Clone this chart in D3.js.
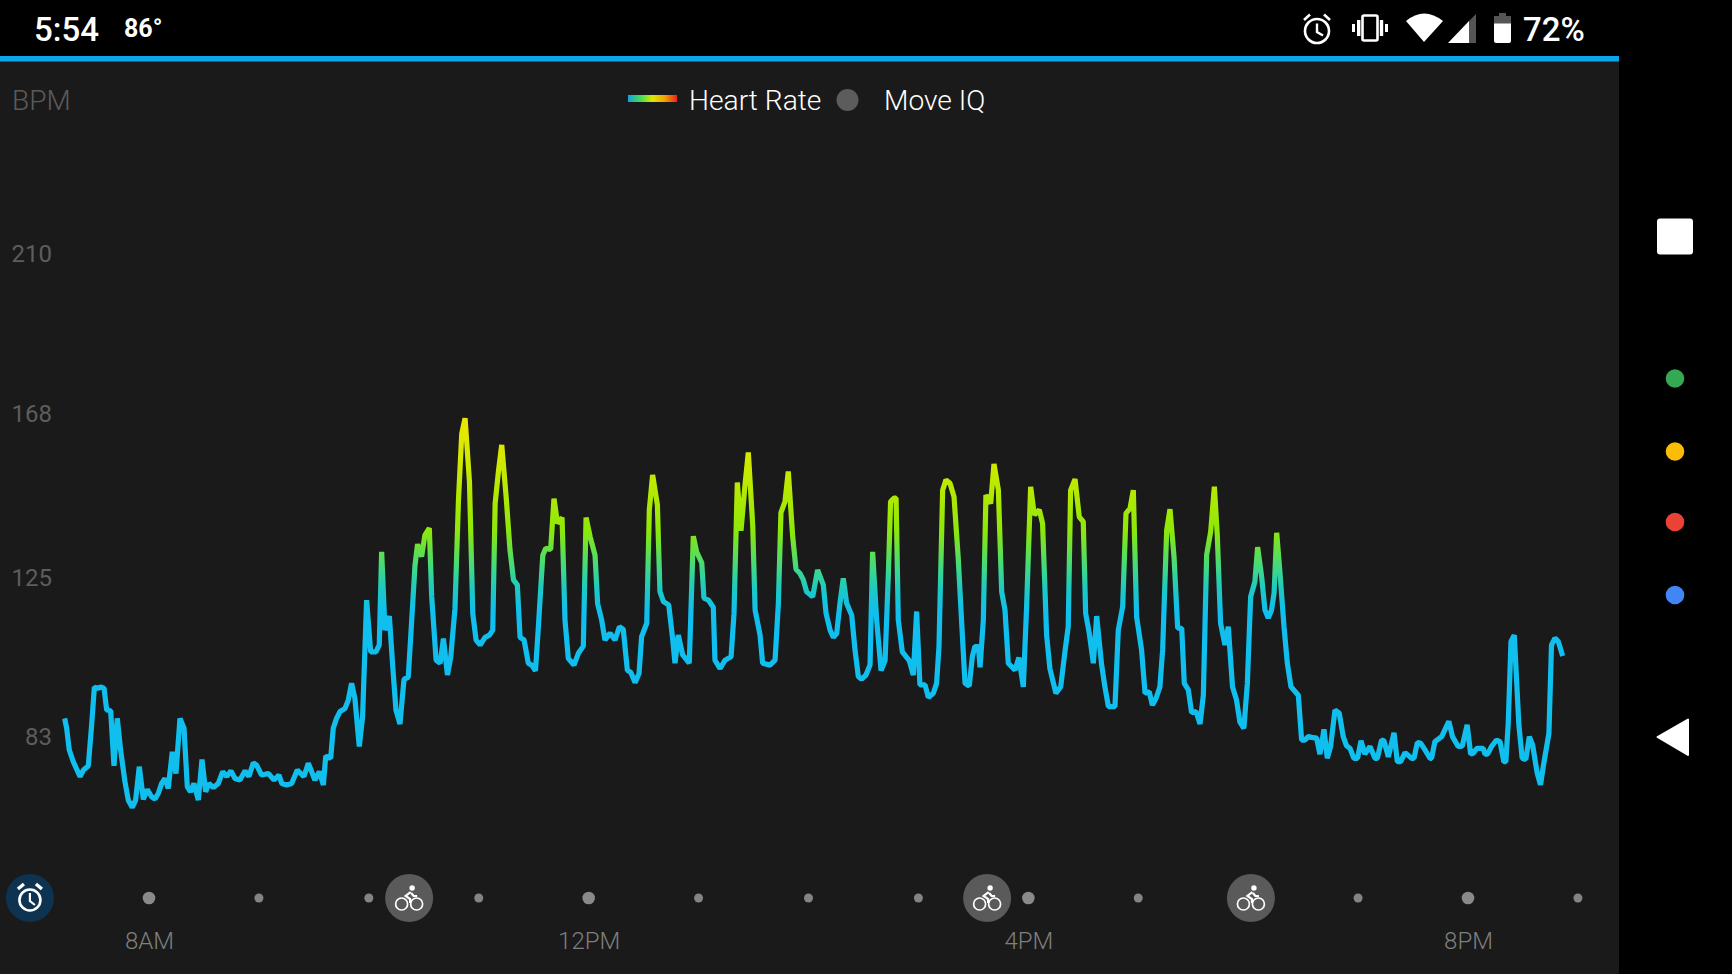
<!DOCTYPE html>
<html><head><meta charset="utf-8">
<script src="https://cdn.jsdelivr.net/npm/d3@7"></script>
<style>html,body{margin:0;padding:0;background:#000;overflow:hidden}svg{display:block}text{font-family:Roboto,sans-serif}</style>
</head><body><svg id="c" width="1732" height="974"></svg>
<script>
// minutes since midnight of each reading
const hrMinutes=[434,435.1,436.5,438.7,442.4,444.2,446.9,448.7,450.2,452.4,453.6,455.5,456.9,459.1,460.9,462.7,464.5,466.9,468.7,470.9,472.7,474.7,476.9,479.1,481.4,483.3,485.1,486.9,488.7,490.5,492.7,494.7,496.9,499.1,500.9,502.7,504.5,506.9,508.9,510.9,512.7,515.1,517.8,520.2,522.4,524.7,526.9,529.6,532.4,534.5,536.9,538.7,541.4,545.1,548.2,550.9,552.4,555.1,557.8,560.9,564.5,566.9,570.5,572.9,575.1,576.4,579.1,580.5,582.3,584.2,586.9,588.7,590.5,592.3,594.7,596.5,598.7,600.9,603.8,605.6,606.9,608.7,611.1,612.9,614.7,616.9,619.1,621.4,622.7,625.1,626.5,628.7,630.5,632.9,
634.2,636.6,638.8,640.6,642.8,644.6,646.9,648.8,650.6,652.4,654.8,656.6,658.4,660.6,663.3,665.7,667.5,668.8,670.6,672.4,674.8,676.9,678.8,680.9,682.4,684.6,686.9,688.8,690.8,692.4,694.8,696.4,699.1,700.9,702.8,705.3,706.9,708.7,711.8,714.2,716.9,718.4,720.6,723.3,724.7,726.9,728.7,731.5,734.2,736.6,738.7,740.9,742.9,745.1,747.3,748.7,751.5,752.9,754.7,757.3,758.7,760.6,763.5,765.5,766.9,768.7,771.1,774.7,776.9,778.7,781.5,782.7,785.1,787.8,788.7,791.5,794.2,797.5,799.1,800.9,802.9,805.1,806.9,809.3,810.6,813.3,814.7,818.7,821.5,823.3,824.7,826.9,828.7,831.1,832.9,835.1,836.9,838.7,842,844.7,
847.8,849.3,851.5,853.3,855.1,856.9,858.7,860.5,863.3,865.1,866.9,868.7,871.1,873.3,874.7,876.9,879.3,881.5,883.3,884.5,886.4,887.5,888.7,890.9,894.7,896.9,898.7,900.5,903.3,905.1,907.8,909.6,910.9,912.9,914.7,916.9,919.1,921.4,923.3,925.1,927.4,929.1,930.5,932.4,933.3,935.1,936.5,939.1,940.9,943.3,945.1,946.9,948.7,952.4,954.5,956.9,958.7,960.9,962.9,965.6,967.4,969.6,971.4,974.7,977.3,979.6,981.4,982.7,985.1,987.4,989.6,990.9,992.9,995.1,996.9,999.6,1001.4,1003.3,1006.9,1008.7,1011.1,1012.9,1015.1,1016.9,1018.7,1021.4,1023.3,1025.6,1027.3,1029.3,1031.4,1032.9,1035.1,1036.9,1039.1,1041.1,1043.3,1044.7,1046.9,1048.7,1051.1,1053.3,1055.1,1056.9,1059.1,1061.1,1062.7,1064.5,
1066.9,1068.7,1071,1073.2,1075,1077.2,1079.1,1080.9,1083.2,1084.7,1086.9,1088.7,1090.5,1092.3,1093.7,1095.1,1096.9,1099.1,1100.9,1102.9,1106.9,1108.7,1110.5,1112.3,1114.2,1116.9,1118.7,1120.9,1122.7,1124.5,1126.9,1129.2,1131.4,1133.2,1135.1,1137.2,1139.2,1141.1,1143.2,1146,1148.7,1150,1152.3,1153.6,1156,1159.1,1160.9,1162.7,1165.1,1168.7,1170,1171.8,1173.6,1176,1178.7,1179.6,1181.4,1185.1,1189,1191,1194.1,1196.3,1199,1200.9,1202.3,1204.2,1207.8,1208.7,1210.1,1212.3,1215,1216.9,1219,1220.1,1221.4,1222.9,1224.7,1227.2,1229,1231,1232.9,1234.7,1237.2,1239,1240.5,1243.6,1245,1246.9,1248.7,1251.1];
// heart rate at each reading
const hrBpm=[87.9,85.3,79.6,76.5,72.6,74.3,75.4,86.1,96.1,95.8,96.2,95.8,90.1,89.9,75.4,87.9,79.6,71.2,66.4,64.5,66.4,75.2,66.6,69.2,67.3,66.7,68.2,70.8,72.1,69.5,79.1,73.4,87.9,85.3,69.9,68.6,70.8,66.4,77.1,68.6,70.8,69.7,70.8,73.9,72.6,74.1,72.1,71.7,74.1,72.6,76.2,75.6,73,73.4,71.7,73,70.8,70.4,70.8,74.3,72.6,76.1,71.7,73.9,70.4,78,77.4,85.3,87.9,89.7,90.5,92.7,97.1,93.2,80.5,88.3,119,105.4,105.4,107.2,131.7,111.1,114.8,101.9,90.1,86.4,98.2,98.7,108.9,128.2,133.7,130.4,136.1,137.9,
119.9,103.2,102.4,108.9,99.3,104.1,116.8,145.3,162.8,166.8,150.1,115.5,108.5,107.2,109.2,109.8,111.1,144.4,152.8,159.8,146.2,132.2,124.3,123,109.2,108.5,102.4,101.9,100.4,112,130.8,132.6,132.3,145.7,139.2,140.7,113.8,103.7,101.9,105,106.9,140.7,135.7,130.8,118.1,113.8,108.5,110.3,108.5,112,111.3,100.6,99.9,97.3,99.7,109.4,112.9,142.7,151.9,144,121.2,118.6,117.7,109.4,102.4,109.8,104.6,102.4,135.8,131.7,128.8,119.5,119,117.1,103.2,101,103.2,104.1,115.5,149.9,137.2,149.3,157.8,138.7,116.4,109.8,102.4,101.9,103.2,118.1,142,144.9,152.8,135.7,127.1,126,124.3,121.2,119.9,126.9,
123,115.5,111.1,109.2,110.2,118.2,124.7,118.2,115,105.9,98.9,98.2,99.3,102,131.7,113.8,100.5,103.1,126,144.9,145.8,145.8,113.8,105.4,103.1,99.3,116,96.7,96.7,93.4,94.5,97.1,106.8,147.9,150.6,149.7,146.2,130,112.9,97.1,96.4,104.1,106.8,106.8,101.3,113.8,146.6,144.4,154.8,147.9,121.2,116.4,102.4,100.6,103.9,96.2,117.3,148.8,141.4,142.7,139.2,109.8,101,94.5,96.2,105.4,112,147.9,150.8,140.9,139.6,115.5,110.2,102.4,114.8,102,96.2,91,91,111.1,117.3,141.8,143.1,147.9,114.6,105.9,94.5,94.9,91.4,93.2,96.2,105.9,137.4,142.9,130.4,111.6,111.6,97.1,95.4,89.4,89.7,86.4,94,130.9,137,148.8,136.1,112.9,
107.2,112,96.2,92.7,87,85.3,97.1,119.9,123.8,132.9,125.1,116.4,114.3,116.4,120.9,136.7,126.1,112,102.4,96.2,94,82.2,82.2,83.1,82.9,82.7,78.5,85,77.4,80.5,90.1,89.3,83.1,80.7,80,77.4,77.4,82,78.5,80.5,77.4,77.4,82.2,82,77.8,84.1,76.5,76.5,78.9,77.4,77.4,81.5,81.4,79.6,77.4,77.4,81.8,83.1,87.1,83.1,80.5,80.6,86.2,78.5,78.7,80,80,78.5,78.5,80.5,82.2,81.8,76.5,76.5,86.6,108.1,109.8,86.2,77.4,77.1,83.1,80.9,73.5,70.4,75.2,84,107.2,109,108.1,104.3];
const bpmTicks=[210,168,125,83];
const hourTicks=[480,720,960,1200];
const hourLabels=["8AM","12PM","4PM","8PM"];
const minorHours=[540,600,660,780,840,900,1020,1080,1140,1260];
const moveIqMinutes=[622,937.5,1081.5];
const alarmMinute=415;
const legendNames=["Heart Rate","Move IQ"];
const gradBpm=[115.9,121.6,126.9,132,137.4,150.6,160,166.3];
const gradColors=["#10bfee","#1cc8c6","#3bd88c","#62e048","#8ee808","#bfe900","#dde800","#eae600"];
const legendColors=["#15a0dc","#3fdc5c","#dde600","#f0a400","#f22020"];

const W=1732,H=974;
const svg=d3.select("#c");
const x=d3.scaleLinear().domain([480,1200]).range([149,1469]);
const xRow=d3.scaleLinear().domain([480,1200]).range([149,1468]);
const y=d3.scaleLinear().domain([83,210]).range([737,254]);

svg.append("rect").attr("width",W).attr("height",H).attr("fill","#000");
svg.append("rect").attr("y",61).attr("width",1619).attr("height",H-61).attr("fill","#1a1a1a");
svg.append("rect").attr("y",56).attr("width",1619).attr("height",5.5).attr("fill","#0da6ea");

const defs=svg.append("defs");
const g=defs.append("linearGradient").attr("id","hr").attr("gradientUnits","userSpaceOnUse")
  .attr("x1",0).attr("x2",0).attr("y1",y(gradBpm[0])).attr("y2",y(gradBpm[gradBpm.length-1]));
const span=gradBpm[gradBpm.length-1]-gradBpm[0];
gradBpm.forEach((b,i)=>g.append("stop").attr("offset",(b-gradBpm[0])/span).attr("stop-color",gradColors[i]));
const lg=defs.append("linearGradient").attr("id","lg");
legendColors.forEach((c,i)=>lg.append("stop").attr("offset",i/(legendColors.length-1)).attr("stop-color",c));

// status bar
function st(t,xx,yy,size,weight,fill,anchor){return svg.append("text").attr("x",xx).attr("y",yy).attr("font-size",size).attr("font-weight",weight).attr("fill",fill||"#fff").attr("text-anchor",anchor||"start").text(t);}
st("5:54",34,41,33,500);
st("86°",124,37,25,700);
st("72%",1523,41,33,500);
// alarm icon
const ic=svg.append("g").attr("fill","none").attr("stroke","#fff");
ic.append("circle").attr("cx",1317).attr("cy",31).attr("r",12).attr("stroke-width",2.6);
ic.append("path").attr("d","M1317 23.5V32L1323 35.5").attr("stroke-width",2.4);
ic.append("path").attr("d","M1304 20L1310 14.5M1330 20L1324 14.5").attr("stroke-width",2.6);
// vibrate icon
ic.append("rect").attr("x",1362.5).attr("y",15.5).attr("width",15).attr("height",25).attr("rx",1.5).attr("stroke-width",2.6);
svg.append("path").attr("fill","#fff").attr("d","M1357 20h3.4v16h-3.4zM1379.8 20h3.4v16h-3.4zM1352 24h3v8h-3zM1385 24h3v8h-3z");
// wifi
svg.append("path").attr("fill","#fff").attr("d","M1406 21Q1424 6 1443 21L1424 42Z");
// signal
svg.append("path").attr("fill","#555").attr("d","M1476 14V43H1469V21Z");
svg.append("path").attr("fill","#fff").attr("d","M1469 21V43H1448Z");
// battery
svg.append("path").attr("fill","#555").attr("d","M1499 13h7v3h5v8h-17v-8h5z");
svg.append("path").attr("fill","#fff").attr("d","M1494 23.5h17V41a2 2 0 0 1-2 2h-13a2 2 0 0 1-2-2z");

// header
st("BPM",12,110,28,300,"#5a5a5a");
svg.append("rect").attr("x",628).attr("y",95).attr("width",49).attr("height",7).attr("fill","url(#lg)");
st(legendNames[0],689,110,28.2,300,"#fff");
svg.append("circle").attr("cx",847.5).attr("cy",100).attr("r",11).attr("fill","#5c5c5c");
st(legendNames[1],884,110,28.2,300,"#fff");

// y axis
const yA=svg.append("g").attr("transform","translate(52,0.2)")
  .call(d3.axisLeft(y).tickValues(bpmTicks).tickSize(0).tickPadding(0));
yA.select(".domain").remove();
yA.selectAll("text").attr("font-size",24).attr("font-family","Roboto").attr("font-weight",400).attr("fill","#5d5d5d");

// line
const pts=hrMinutes.map((m,i)=>[m,hrBpm[i]]);
svg.append("path").attr("fill","none").attr("stroke","url(#hr)").attr("stroke-width",5.2)
  .attr("stroke-linejoin","bevel")
  .attr("d",d3.line().x(d=>x(d[0])).y(d=>y(d[1]))(pts));

// time row
const rowY=898;
svg.selectAll(".minor").data(minorHours).join("circle").attr("cx",d=>xRow(d)).attr("cy",rowY).attr("r",4.5).attr("fill","#848484");
svg.selectAll(".major").data(hourTicks).join("circle").attr("cx",d=>xRow(d)).attr("cy",rowY).attr("r",6.3).attr("fill","#8a8a8a");
const xA=svg.append("g").attr("transform","translate(0,925.5)")
  .call(d3.axisBottom(xRow).tickValues(hourTicks).tickFormat((d,i)=>hourLabels[i]).tickSize(0).tickPadding(6));
xA.select(".domain").remove();
xA.selectAll("text").attr("font-size",24).attr("font-family","Roboto").attr("font-weight",300).attr("fill","#7f7f7f");

// alarm badge
const ax=xRow(alarmMinute);
const ab=svg.append("g").attr("transform",`translate(${ax},${rowY})`);
ab.append("circle").attr("r",24).attr("fill","#0d3350");
ab.append("circle").attr("cy",2).attr("r",10.5).attr("fill","none").attr("stroke","#fff").attr("stroke-width",2.6);
ab.append("path").attr("d","M0 -5V3L5 7").attr("fill","none").attr("stroke","#fff").attr("stroke-width",2.2);
ab.append("path").attr("d","M-12 -9L-6 -14M12 -9L6 -14").attr("fill","none").attr("stroke","#fff").attr("stroke-width",3.4);

// Move IQ cycling badges
const bk=svg.selectAll(".bike").data(moveIqMinutes).join("g").attr("transform",d=>`translate(${xRow(d)},${rowY})`);
bk.append("circle").attr("r",24).attr("fill","#5a5a5a");
bk.append("circle").attr("cx",-7.5).attr("cy",6).attr("r",6).attr("fill","none").attr("stroke","#fff").attr("stroke-width",1.7);
bk.append("circle").attr("cx",7.5).attr("cy",6).attr("r",6).attr("fill","none").attr("stroke","#fff").attr("stroke-width",1.7);
bk.append("circle").attr("cx",3).attr("cy",-10).attr("r",2.7).attr("fill","#fff");
bk.append("path").attr("d","M1.5 -6L-3.5 -2L1 1V5M2 -5L4.5 -2H8").attr("fill","none").attr("stroke","#fff").attr("stroke-width",2.2);

// navigation bar
svg.append("rect").attr("x",1657).attr("y",218.5).attr("width",36).attr("height",36).attr("rx",3).attr("fill","#fff");
const navY=[378.5,451.5,522,595],navC=["#34a853","#fbbc05","#ea4335","#4285f4"];
svg.selectAll(".nav").data(navY).join("circle").attr("cx",1675).attr("cy",d=>d).attr("r",9.3).attr("fill",(d,i)=>navC[i]);
svg.append("path").attr("d","M1657.5 737L1688 719.5V755Z").attr("fill","#fff").attr("stroke","#fff").attr("stroke-width",2).attr("stroke-linejoin","round");
</script></body></html>
